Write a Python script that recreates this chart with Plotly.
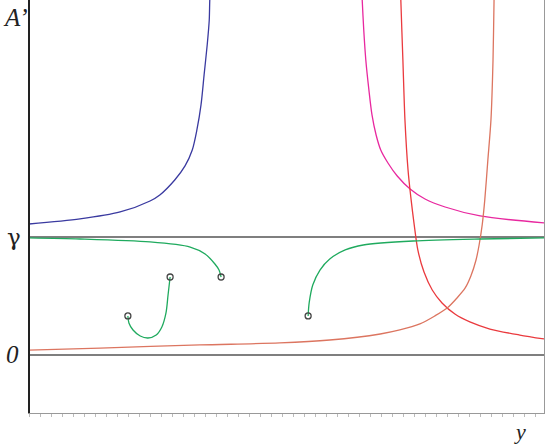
import plotly.graph_objects as go

# curves (x = y-variable, value = A')
blue_x = [0, 0.099, 0.177, 0.235, 0.254, 0.283, 0.303, 0.317, 0.326, 0.334, 0.340, 0.346, 0.350,
          0.351, 0.353]
blue_v = [1.110, 1.153, 1.212, 1.305, 1.356, 1.483, 1.602, 1.737, 1.907, 2.119, 2.373, 2.627, 2.839,
          3.008, 3.2]

magenta_x = [0.645, 0.647, 0.650, 0.654, 0.660, 0.666, 0.674, 0.683, 0.697, 0.715, 0.740, 0.769,
             0.808, 0.876, 1.0]
magenta_v = [3.2, 3.008, 2.754, 2.500, 2.246, 2.034, 1.864, 1.737, 1.627, 1.517, 1.407, 1.322,
             1.254, 1.178, 1.119]

red_x = [0.721, 0.722, 0.726, 0.730, 0.736, 0.742, 0.748, 0.755, 0.767, 0.783, 0.802, 0.827, 0.856,
         0.895, 0.953, 1.0]
red_v = [3.2, 3.008, 2.500, 1.992, 1.568, 1.314, 1.102, 0.890, 0.703, 0.551, 0.441, 0.347, 0.280,
         0.220, 0.169, 0.136]

orange_x = [0, 0.138, 0.332, 0.487, 0.584, 0.682, 0.720, 0.759, 0.788, 0.812, 0.831, 0.847, 0.858,
            0.868, 0.874, 0.880, 0.885, 0.891, 0.897, 0.901, 0.903, 0.904]
orange_v = [0.042, 0.059, 0.085, 0.102, 0.127, 0.178, 0.212, 0.263, 0.331, 0.398, 0.483, 0.568, 0.669,
            0.805, 0.932, 1.102, 1.314, 1.653, 1.992, 2.5, 3.008, 3.2]

green1_x = [0, 0.099, 0.235, 0.313, 0.342, 0.361, 0.369, 0.373]
green1_v = [0.992, 0.983, 0.958, 0.915, 0.856, 0.771, 0.720, 0.661]

green2_x = [0.192, 0.194, 0.202, 0.216, 0.231, 0.247, 0.258, 0.266, 0.270, 0.274]
green2_v = [0.331, 0.271, 0.212, 0.161, 0.144, 0.169, 0.237, 0.356, 0.508, 0.661]

green3_x = [0.542, 0.544, 0.551, 0.565, 0.584, 0.614, 0.649, 0.746, 0.876, 1.0]
green3_v = [0.331, 0.441, 0.593, 0.720, 0.814, 0.890, 0.932, 0.966, 0.983, 0.992]

end_x = [0.373, 0.274, 0.192, 0.542]
end_v = [0.661, 0.661, 0.331, 0.331]

gamma = 1.0

fig = go.Figure()

# reference levels 0 and gamma
for lvl in [gamma, 0]:
    fig.add_trace(go.Scatter(x=[0, 1], y=[lvl, lvl], mode='lines',
                             line=dict(color='#555555', width=1.5), hoverinfo='skip'))

curves = [
    (blue_x, blue_v, '#3a3aa0'),
    (magenta_x, magenta_v, '#e8289f'),
    (red_x, red_v, '#ea3a3e'),
    (orange_x, orange_v, '#dc7560'),
    (green1_x, green1_v, '#1faa5e'),
    (green2_x, green2_v, '#1faa5e'),
    (green3_x, green3_v, '#1faa5e'),
]
for xs, vs, col in curves:
    fig.add_trace(go.Scatter(x=xs, y=vs, mode='lines',
                             line=dict(color=col, width=1.3, shape='spline', smoothing=0.8)))

fig.add_trace(go.Scatter(x=end_x, y=end_v, mode='markers',
                         marker=dict(symbol='circle-open', size=6, color='#444444',
                                     line=dict(width=1.3))))

serif = dict(family='Liberation Serif', size=25, color='#222222')
fig.add_annotation(x=-0.027, y=0.995, xref='paper', yref='paper', text="<i>A’</i>",
                   showarrow=False, xanchor='center', yanchor='top', font=serif)
fig.add_annotation(x=-0.029, y=gamma, xref='paper', yref='y', text='γ',
                   showarrow=False, xanchor='center', yanchor='middle',
                   font=dict(family='DejaVu Serif', size=23, color='#222222'))
fig.add_annotation(x=-0.033, y=0, xref='paper', yref='y', text='<i>0</i>',
                   showarrow=False, xanchor='center', yanchor='middle', font=serif)
fig.add_annotation(x=0.953, y=-0.046, xref='paper', yref='paper', text='<i>y</i>',
                   showarrow=False, xanchor='center', yanchor='middle',
                   font=dict(family='Liberation Serif', size=22, color='#222222'))

fig.update_layout(
    width=545, height=444,
    margin=dict(l=29, r=1, t=0, b=31),
    paper_bgcolor='white', plot_bgcolor='white',
    showlegend=False,
    xaxis=dict(range=[0, 1], showgrid=False, zeroline=False, showticklabels=False,
               showline=True, linecolor='#999999', linewidth=1, mirror=True,
               ticks='outside', ticklen=3, tickcolor='#bbbbbb', dtick=0.0214),
    yaxis=dict(range=[-0.4915, 3.008], showgrid=False, zeroline=False, showticklabels=False,
               showline=True, linecolor='#999999', linewidth=1, mirror=True, ticks=''),
)
# dark left axis
fig.add_shape(type='line', xref='paper', yref='paper', x0=0, x1=0, y0=0, y1=1,
              line=dict(color='#222222', width=2))

# drop the page's default body margin so the figure sits at the window's corner
fig.write_html("out.html", config={'displayModeBar': False},
               post_script="document.body.style.margin='0';")
